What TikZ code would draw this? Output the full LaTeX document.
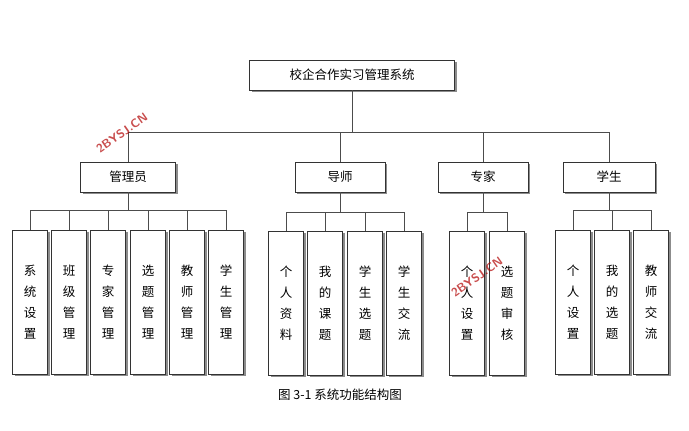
\documentclass[tikz,border=0pt]{standalone}
\usepackage{fontspec}
\setmainfont{Noto Sans CJK SC}
\usetikzlibrary{shadows}
\tikzset{
 box/.style={draw=black!80,fill=white,line width=0.6pt,inner sep=0pt,font=\fontsize{12.5}{14}\selectfont,
   drop shadow={shadow xshift=2pt,shadow yshift=-2pt,fill=black!45,opacity=1}},
 leaf/.style={box,minimum width=35pt,minimum height=144pt,align=center,font=\fontsize{12.5}{21}\selectfont},
 conn/.style={draw=black!70,line width=0.6pt},
 wm/.style={text=red!70!black,opacity=0.7,rotate=35,font=\sffamily\bfseries\fontsize{12}{14}\selectfont}
}
\begin{document}
\begin{tikzpicture}[x=1pt,y=-1pt]
\useasboundingbox[fill=white] (0,0) rectangle (689,431);
\node[box,minimum width=205pt,minimum height=30pt] (root) at (352,75) {校企合作实习管理系统};
\node[box,minimum width=95pt,minimum height=30pt] (a) at (128,177) {管理员};
\node[box,minimum width=90pt,minimum height=30pt] (b) at (340,177) {导师};
\node[box,minimum width=90pt,minimum height=30pt] (c) at (483,177) {专家};
\node[box,minimum width=92pt,minimum height=30pt] (d) at (609,177) {学生};
\coordinate (bus) at (0,132);
\foreach \n in {a,b,c,d}{\draw[conn] (root.south) |- (bus -| \n) -- (\n.north);}
\foreach \i/\t/\x in {a1/系\\统\\设\\置/30,a2/班\\级\\管\\理/69,a3/专\\家\\管\\理/108,a4/选\\题\\管\\理/148,a5/教\\师\\管\\理/187,a6/学\\生\\管\\理/226}{
 \node[leaf] (\i) at (\x,302) {\t};
 \draw[conn] (a.south) |- (\x,210) -- (\i.north);}
\foreach \i/\t/\x in {b1/个\\人\\资\\料/286,b2/我\\的\\课\\题/325,b3/学\\生\\选\\题/365,b4/学\\生\\交\\流/404}{
 \node[leaf] (\i) at (\x,303) {\t};
 \draw[conn] (b.south) |- (\x,212) -- (\i.north);}
\foreach \i/\t/\x in {c1/个\\人\\设\\置/467,c2/选\\题\\审\\核/507}{
 \node[leaf] (\i) at (\x,303) {\t};
 \draw[conn] (c.south) |- (\x,212) -- (\i.north);}
\foreach \i/\t/\x in {d1/个\\人\\设\\置/573,d2/我\\的\\选\\题/612,d3/教\\师\\交\\流/651}{
 \node[leaf] (\i) at (\x,302) {\t};
 \draw[conn] (d.south) |- (\x,210) -- (\i.north);}
\node[font=\fontsize{12.5}{14}\selectfont] (cap) at (340,395) {图 3-1 系统功能结构图};
\node[wm] (w1) at (122,133) {2BYSJ.CN};
\node[wm] (w2) at (477,277) {2BYSJ.CN};
\end{tikzpicture}
\end{document}
